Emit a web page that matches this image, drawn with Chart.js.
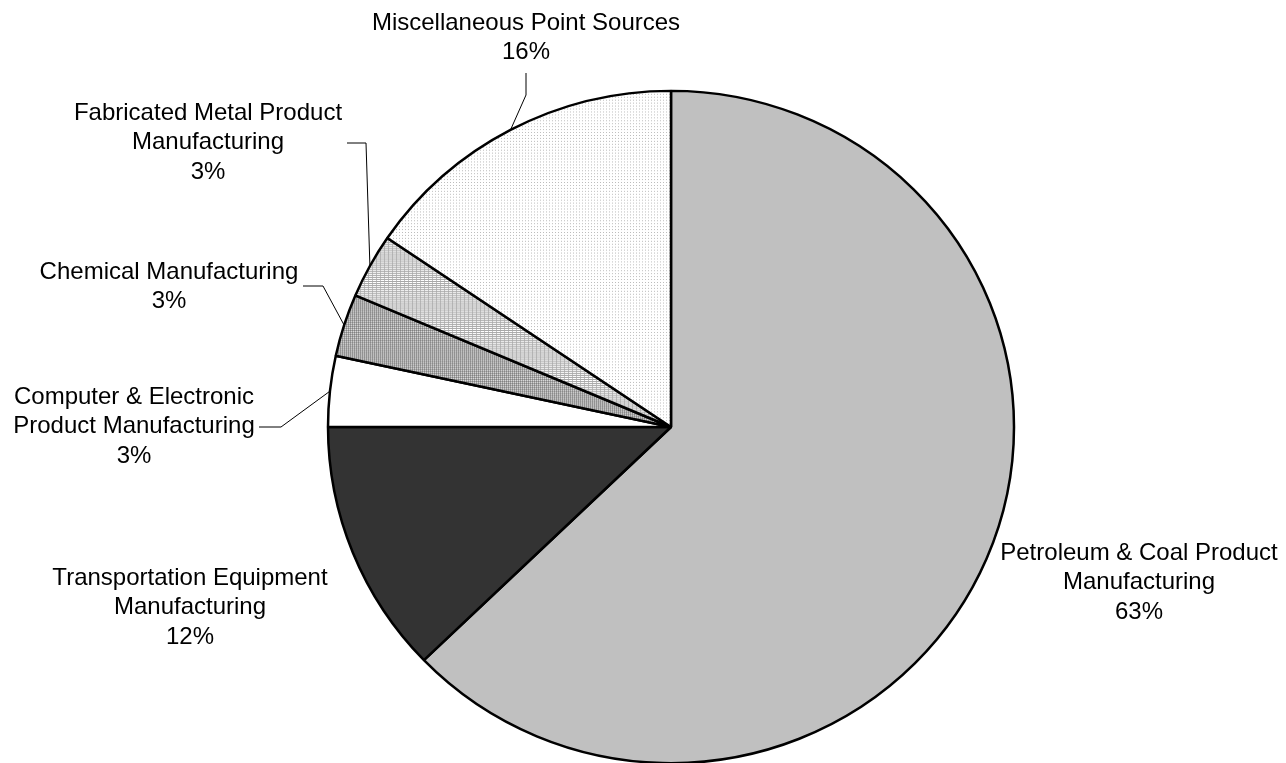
<!DOCTYPE html>
<html>
<head>
<meta charset="utf-8">
<script src="https://cdn.jsdelivr.net/npm/chart.js@4.4.1/dist/chart.umd.min.js"></script>
<style>
  html, body { margin: 0; background: #fff; overflow: hidden; }
  #wrap { width: 1286px; height: 800px; }
</style>
</head>
<body>
<div id="wrap"><canvas id="pie" width="1286" height="800"></canvas></div>
<script>
// ---- data ----
const categories = [
  ['Petroleum & Coal Product', 'Manufacturing'],
  ['Transportation Equipment', 'Manufacturing'],
  ['Computer & Electronic', 'Product Manufacturing'],
  ['Chemical Manufacturing'],
  ['Fabricated Metal Product', 'Manufacturing'],
  ['Miscellaneous Point Sources']
];
const shares = [62.8, 12.2, 3.4, 3.0, 3.1, 15.5];

// ---- layout ----
const RADIUS = 343;
const SCALE_Y = 0.98;          // pie is drawn slightly flattened
const FONT = '24px "Liberation Sans", Arial, sans-serif';
const LINE_H = 29.5;

// label block centre x / first line middle y, and leader elbows (null = no leader)
const labelSpots = [
  { x: 1139, y: 553, leader: null },
  { x: 190,  y: 578, leader: null },
  { x: 134,  y: 397, leader: [[259, 427], [281, 427]] },
  { x: 169,  y: 272, leader: [[303, 286], [323, 286]] },
  { x: 208,  y: 113, leader: [[347, 143], [366, 143]] },
  { x: 526,  y: 23,  leader: [[526, 73], [526, 95]] }
];

// ---- fill patterns ----
function makePattern(w, h, bg, px) {
  const c = document.createElement('canvas');
  c.width = w; c.height = h;
  const g = c.getContext('2d');
  g.fillStyle = bg;
  g.fillRect(0, 0, w, h);
  px.forEach(([x, y, col]) => { g.fillStyle = col; g.fillRect(x, y, 1, 1); });
  return g.createPattern(c, 'repeat');
}

const chemFill = makePattern(2, 2, '#a4a4a4', [[0, 0, '#808080'], [1, 1, '#d8d8d8']]);
const metalFill = makePattern(4, 2, '#ffffff', [
  [0, 0, '#a8a8a8'], [1, 0, '#a8a8a8'], [2, 0, '#a8a8a8'], [3, 0, '#a8a8a8'], [0, 1, '#c0c0c0']
]);
const miscFill = makePattern(3, 3, '#ffffff', [[0, 0, '#bcbcbc']]);

const sliceFills = ['#c0c0c0', '#333333', '#ffffff', chemFill, metalFill, miscFill];

// ---- plugins ----
const squash = {
  id: 'squash',
  beforeDatasetsDraw(chart) {
    const a = chart.getDatasetMeta(0).data[0];
    const ctx = chart.ctx;
    ctx.save();
    ctx.translate(a.x, a.y);
    ctx.scale(1, SCALE_Y);
    ctx.translate(-a.x, -a.y);
  },
  afterDatasetsDraw(chart) {
    chart.ctx.restore();
  }
};

const sliceLabels = {
  id: 'sliceLabels',
  afterDraw(chart) {
    const ctx = chart.ctx;
    const arcs = chart.getDatasetMeta(0).data;
    ctx.save();
    ctx.font = FONT;
    ctx.fillStyle = '#000';
    ctx.textAlign = 'center';
    ctx.textBaseline = 'middle';

    arcs.forEach((arc, i) => {
      const spot = labelSpots[i];
      const lines = categories[i].concat(Math.round(shares[i]) + '%');
      lines.forEach((t, k) => ctx.fillText(t, spot.x, spot.y + k * LINE_H));

      if (spot.leader) {
        const mid = (arc.startAngle + arc.endAngle) / 2;
        const ax = arc.x + Math.cos(mid) * arc.outerRadius;
        const ay = arc.y + Math.sin(mid) * arc.outerRadius * SCALE_Y;
        ctx.strokeStyle = '#000';
        ctx.lineWidth = 1;
        ctx.beginPath();
        ctx.moveTo(spot.leader[0][0], spot.leader[0][1]);
        spot.leader.slice(1).forEach(p => ctx.lineTo(p[0], p[1]));
        ctx.lineTo(ax, ay);
        ctx.stroke();
      }
    });
    ctx.restore();
  }
};

// ---- chart ----
new Chart(document.getElementById('pie').getContext('2d'), {
  type: 'pie',
  data: {
    labels: categories,
    datasets: [{
      data: shares,
      backgroundColor: sliceFills,
      borderColor: '#000',
      borderWidth: 2.5,
      radius: RADIUS
    }]
  },
  options: {
    responsive: false,
    animation: false,
    layout: { padding: { left: 327, right: 271, top: 83, bottom: 29 } },
    plugins: {
      legend: { display: false },
      tooltip: { enabled: false }
    }
  },
  plugins: [squash, sliceLabels]
});
</script>
</body>
</html>
